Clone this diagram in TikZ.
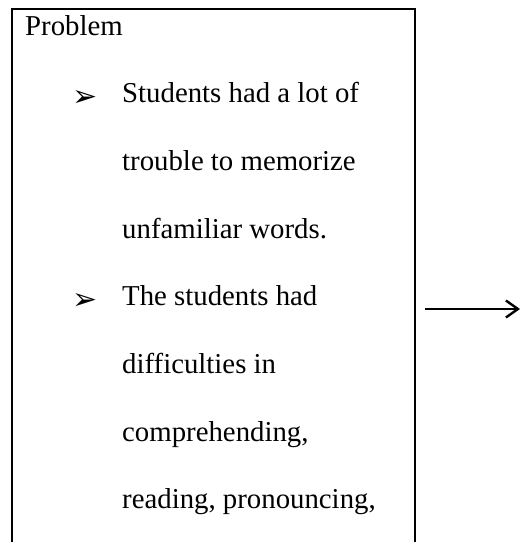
\documentclass[tikz,border=0pt]{standalone}
\usepackage{fontspec}
\setmainfont{Liberation Serif}
\newfontfamily\bulletfont{DejaVu Sans}
\usetikzlibrary{arrows.meta}

\begin{document}
\begin{tikzpicture}[
		x=1pt, y=-1pt,
		txt/.style = {anchor=base west, inner sep=0pt,% one line of the list
			font=\fontsize{28.8}{34}\selectfont},
		bul/.style = {anchor=base west, inner sep=0pt,
			font=\bulletfont\fontsize{30}{34}\selectfont},
		frame/.style = {line width=2.4pt},
		]
		\useasboundingbox (0,0) rectangle (522,542);
		% box, open at the bottom
		\draw[frame] (12,542) -- (12,9) -- (415,9) -- (415,542);
		\node[txt] (title) at (25,35) {Problem};
		\foreach \t [count=\i] in {Students had a lot of,trouble to memorize,unfamiliar words.,The students had,difficulties in,{comprehending,},{reading, pronouncing,}}% <-- lines of text
		\node[txt] (L\i) at (122,{35+\i*67.7}) {\t};
		\node[bul] (B1) at (72,106) {➢};
		\node[bul] (B2) at (72,309) {➢};
		\coordinate (start) at (425,309);
		\coordinate (end) at (520,309);
		\draw[frame, -{Straight Barb[length=12pt,width=17pt]}] (start) -- (end);
	\end{tikzpicture}
\end{document}
